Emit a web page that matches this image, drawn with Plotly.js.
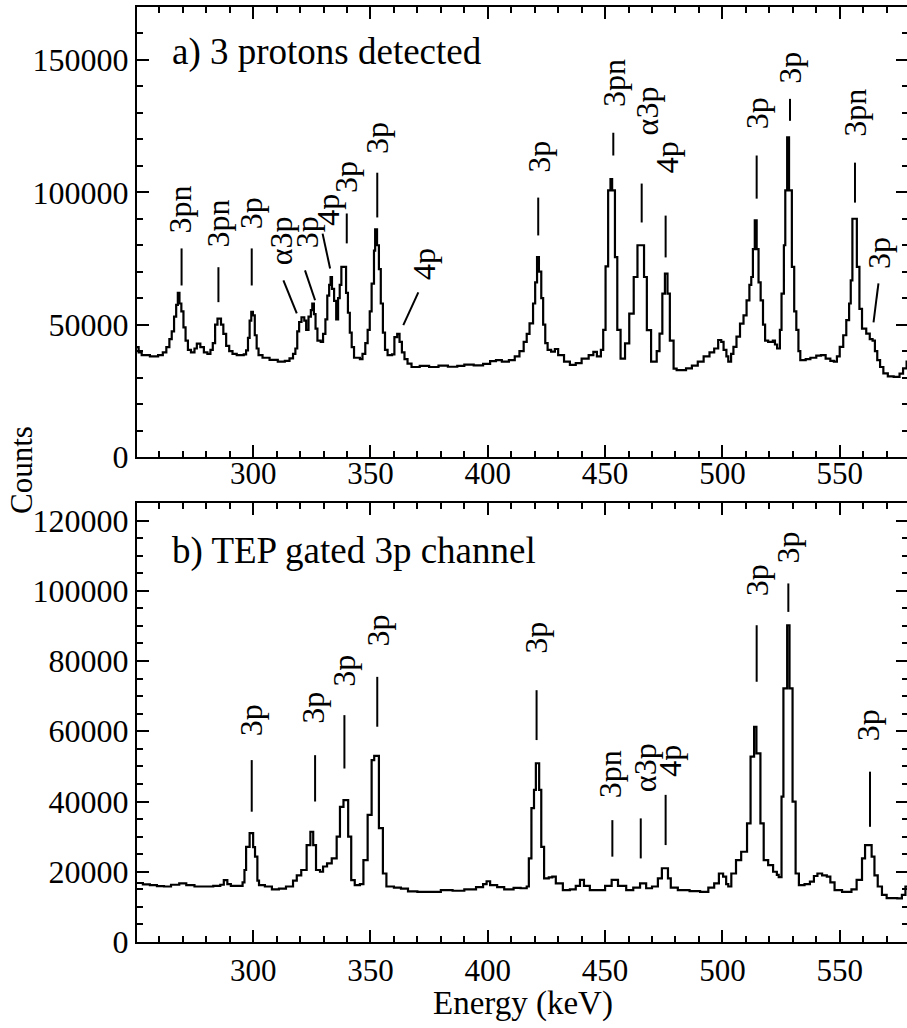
<!DOCTYPE html>
<html>
<head>
<meta charset="utf-8">
<script src="https://cdn.plot.ly/plotly-3.0.1.min.js"></script>
<style>
html, body { margin: 0; padding: 0; overflow: hidden; background: #fff; }
#chart { width: 910px; height: 1028px; }
</style>
</head>
<body>
<div id="chart"></div>
<script>
// ---------- panel a) 3 protons detected ----------
const topEnergy = [
  250.0, 251.2, 252.5, 256.0, 259.5, 261.5, 263.0, 264.3,
  265.3, 266.3, 267.2, 267.9, 268.6, 269.4, 270.3, 271.2, 272.2, 273.5,
  275.0, 276.0, 277.5, 279.0, 280.5, 281.8, 282.8, 283.8, 284.8, 286.3, 287.3, 288.5, 289.8, 291.2,
  293.0, 296.0, 297.0, 297.8, 298.5, 299.2, 299.9, 300.7, 301.5, 302.3, 304.0,
  307.0, 310.5, 313.5, 315.5, 317.0, 318.0, 318.8, 319.6, 320.6, 321.8, 322.6,
  323.6, 324.6, 325.2, 325.9, 326.6, 327.4, 328.8, 329.8, 330.8, 331.6,
  332.4, 333.0, 333.6, 334.5, 335.4, 336.2, 336.9, 337.6, 339.6, 340.4, 341.2, 342.0, 343.0,
  345.5, 346.6, 347.8, 348.8, 349.7, 350.5, 351.5, 352.0, 352.8, 353.6, 354.4, 355.3, 356.2, 357.3,
  359.2, 360.2, 361.4, 362.4, 363.4, 364.5, 365.8, 367.5,
  371.0, 375.0, 379.0, 383.0, 387.0, 390.0, 394.0, 398.0, 401.0, 403.5, 406.0, 409.0, 411.5, 413.5,
  415.3, 416.6, 417.8, 419.3, 420.2, 421.0, 421.8, 422.8, 423.6, 424.5, 425.5, 427.0, 428.6, 430.0,
  432.5, 435.0, 437.5, 440.0, 443.0, 445.0, 446.5,
  448.2, 449.2, 450.2, 451.3, 452.3, 453.0, 454.2, 455.2, 456.6,
  458.5, 460.3, 462.2, 463.8, 466.6, 467.8, 469.6,
  472.0, 473.2, 474.4, 475.5, 476.6, 477.6, 479.2, 480.5,
  484.5, 487.0, 489.5, 492.0, 494.5, 496.5, 498.2, 499.5, 500.5, 501.7, 502.5,
  503.7, 504.7, 506.0, 507.5, 509.0, 510.3, 511.5, 512.3, 513.0,
  513.8, 514.6, 515.4, 516.3, 517.3, 518.2, 519.5, 521.5, 522.4, 523.3,
  524.5, 525.2, 526.2, 526.8, 527.6, 528.4, 529.6, 530.6, 531.5, 532.4, 533.2,
  535.5, 537.5, 540.0, 542.0, 544.0, 546.0, 547.5, 548.8, 550.0, 551.5, 552.8,
  554.0, 554.7, 555.4, 557.3, 558.4, 559.5, 561.3, 562.8, 564.0, 565.0, 566.0,
  567.2, 568.6, 570.5, 573.0, 575.5, 577.0, 578.5, 580.0
];
const topCounts = [
  41500, 39500, 38500, 38000, 38500, 39500, 41500, 44500,
  47500, 53000, 57500, 62000, 58000, 55000, 49000, 44000, 40500, 39500,
  41000, 42800, 41500, 39500, 39000, 40500, 43000, 50000, 52300, 50000, 46500, 42000, 40000, 39000,
  38500, 38800, 40300, 45000, 51500, 54800, 53500, 46000, 41000, 38500, 37500,
  36700, 36000, 36300, 37300, 39000, 41000, 47500, 51000, 52800, 51500, 48000,
  53000, 55500, 58000, 54000, 48500, 44000, 43500, 46500, 52000, 61000,
  65000, 68000, 63500, 59000, 52000, 60000, 65000, 71800, 62000, 54500, 47000, 41500, 37500,
  37000, 39000, 43000, 48000, 55000, 65500, 78000, 86000, 80000, 71000, 58000, 47000, 40500, 38500,
  38800, 45300, 46500, 43500, 39500, 37000, 35300, 34000,
  34400, 34000, 34500, 34100, 34400, 34900, 34600, 35200, 36200, 36600, 36000, 36600, 38000, 40000,
  43500, 46500, 50500, 58000, 66000, 75500, 70000, 60000, 50000, 43000, 40500, 39800, 40800, 38500,
  36000, 34800, 35500, 37200, 38500, 39700, 38000,
  40500, 48000, 72000, 100700, 105000, 100700, 75500, 48000, 37200,
  42900, 54200, 68000, 80000, 68000, 47900, 36000,
  40000, 46600, 61700, 69300, 61700, 44000, 33400, 32800,
  33500, 34500, 36000, 38000, 39500, 41000, 44200, 43500, 40500, 38000, 36000,
  39000, 41600, 45500, 50400, 53500, 59200, 65000, 68000, 78500,
  89400, 78500, 66000, 59200, 50000, 44000, 43500, 44000, 42500, 41000,
  48000, 61700, 80000, 100700, 120800, 100700, 71800, 55000, 48000, 40000, 36600,
  37000, 37500, 38300, 38500, 37200, 36300, 36000, 38000, 41600, 46000, 51700,
  58000, 66700, 90000, 71800, 56000, 48500, 46600, 44500, 44000, 40000, 36600,
  34000, 31600, 30500, 30300, 31500, 33500, 36000, 36500
];

// ---------- panel b) TEP gated 3p channel ----------
const bottomEnergy = [
  250.0, 253.0, 256.0, 259.0, 262.0, 265.0, 268.5, 271.5, 275.0, 280.0, 283.0, 286.0, 287.5, 289.0, 290.5, 293.5,
  295.5, 296.3, 297.0, 298.5, 300.0, 300.8, 301.8, 302.5, 305.0, 308.0, 311.0, 314.0, 317.0,
  318.6, 320.5, 322.8, 324.4, 325.6, 326.8, 328.5, 329.8, 331.5, 333.5, 335.6, 337.0, 338.5, 340.5, 341.8, 343.3,
  345.5, 347.0, 348.8, 350.5, 351.6, 353.6, 355.3, 356.8, 360.0, 363.0, 366.0, 370.0, 375.0, 380.0, 385.0, 390.0,
  395.0, 398.0, 399.5, 401.0, 404.0, 407.0, 411.0, 414.0, 416.6, 417.5, 418.6, 419.7, 420.5, 421.9, 422.8, 424.0,
  426.0, 427.5, 429.0, 432.0, 435.0, 437.5, 439.3, 441.0, 443.5, 447.0, 450.0, 452.8, 455.5, 459.0, 462.0, 464.9, 467.5, 470.0,
  472.5, 474.2, 476.8, 478.0, 481.0, 486.0, 490.5, 494.0, 496.5, 498.5, 500.3, 501.6, 502.5,
  503.8, 505.8, 508.0, 510.5, 512.0, 513.5, 514.5, 516.2, 517.6, 519.5, 521.6, 523.2, 524.0,
  525.2, 526.0, 527.6, 528.6, 529.9, 531.2, 532.6, 535.0, 537.3, 539.0, 540.5, 542.5, 544.5, 546.0, 547.8,
  551.0, 555.0, 557.2, 559.5, 560.8, 563.6, 564.8, 566.2, 568.0, 570.0, 574.5, 576.5, 578.0, 580.0
];
const bottomCounts = [
  16800, 16400, 16200, 15900, 15800, 16300, 16700, 16200, 15800, 15800, 16000, 16300, 17600, 16500, 16000, 16000,
  17000, 20500, 27100, 31000, 27000, 24300, 17500, 16200, 15800, 15000, 15200, 15800, 17500,
  19000, 20500, 27600, 31400, 27600, 20500, 20000, 21500, 22400, 23800, 30000, 38500, 40400, 30000, 17600, 16200,
  16500, 23300, 36200, 51800, 53000, 32400, 19500, 15800, 15500, 15200, 14400, 14300, 14300, 14800, 14600, 15000,
  15600, 16500, 17300, 16200, 15600, 15000, 15400, 15300, 15800, 23800, 38100, 43300, 50900, 43300, 27100, 18100,
  18400, 18600, 16700, 14800, 15000, 16000, 17700, 16000, 14800, 14800, 16000, 17700, 16000, 14800, 15500, 16700, 15300, 15800,
  18100, 21000, 18100, 15500, 14800, 14500, 14300, 15500, 16700, 19500, 18600, 16500, 15800,
  19500, 23300, 25700, 33800, 52800, 61300, 53700, 33800, 23300, 21900, 20000, 19100, 18500,
  41400, 72200, 90200, 72200, 40000, 19500, 16200, 16500, 17200, 18800, 19500, 19000, 18600, 17000, 14800,
  14300, 15000, 17700, 23800, 27600, 24300, 19000, 15800, 13400, 12500, 12400, 13400, 15800, 16500
];

// ---------- peak labels ----------
const topLabelText = ['3pn','3pn','3p','α3p','3p','4p','3p','3p','4p','3p','3pn','α3p','4p','3p','3p','3pn','3p'];
const topLabelE    = [268.8, 285.0, 299.4, 312.2, 322.8, 331.6, 339.8, 352.9, 372.6, 421.5, 453.5, 467.7, 476.2, 514.6, 528.8, 556.5, 567.0];
const topLabelY    = [93500, 88200, 92000, 81800, 84800, 93500, 105600, 120600, 73100, 113500, 141400, 130800, 113100, 129700, 147000, 130000, 76900];
const topMarkE0    = [269.5, 285.2, 299.4, 312.9, 322.1, 329.6, 339.9, 352.9, 370.4, 421.5, 453.5, 465.6, 475.8, 514.6, 528.8, 556.5, 566.5];
const topMarkY0    = [78800, 71700, 78800, 66700, 70500, 84400, 92000, 107400, 62200, 98000, 122500, 103300, 91200, 113900, 135300, 111200, 65600];
const topMarkE1    = [269.5, 285.2, 299.4, 318.6, 326.4, 332.8, 339.9, 352.9, 364.0, 421.5, 453.5, 465.6, 475.8, 514.6, 528.8, 556.5, 564.4];
const topMarkY1    = [64800, 58500, 64800, 54300, 59200, 71200, 80700, 90500, 49800, 83700, 113900, 88600, 75400, 97600, 127000, 96100, 50900];

const botLabelText = ['3p','3p','3p','3p','3p','3pn','α3p','4p','3p','3p','3p'];
const botLabelE    = [298.9, 325.7, 338.7, 353.4, 420.8, 452.1, 467.3, 477.7, 514.6, 528.1, 562.2];
const botLabelY    = [63000, 66800, 77200, 88800, 86500, 47800, 49700, 51600, 102900, 112400, 61800];
const botMarkE     = [299.4, 326.4, 338.9, 352.9, 420.8, 453.1, 465.2, 475.8, 514.6, 528.1, 562.9];
const botMarkY0    = [51800, 53200, 64600, 75500, 71700, 34700, 35200, 41900, 90200, 102100, 48500];
const botMarkY1    = [37100, 40000, 49400, 61300, 57500, 24300, 23800, 27600, 74100, 94000, 32800];

const xTickVals = [300, 350, 400, 450, 500, 550];
const topYTicks = [0, 50000, 100000, 150000];
const botYTicks = [0, 20000, 40000, 60000, 80000, 100000, 120000];
const panelTitles = ['a) 3 protons detected', 'b) TEP gated 3p channel'];

// ---------- build ----------
const SERIF = 'Liberation Serif';
const lineStyle = {color: '#000', width: 2.2, shape: 'hv'};

const traces = [
  {x: topEnergy, y: topCounts, xaxis: 'x', yaxis: 'y', mode: 'lines', line: lineStyle, showlegend: false},
  {x: bottomEnergy, y: bottomCounts, xaxis: 'x2', yaxis: 'y2', mode: 'lines', line: lineStyle, showlegend: false}
];

const annotations = [];
const shapes = [];
function addLabels(texts, le, ly, xr, yr) {
  texts.forEach((t, i) => annotations.push({
    text: t, x: le[i], y: ly[i], xref: xr, yref: yr, showarrow: false,
    textangle: -90, xanchor: 'center', yanchor: 'middle',
    font: {family: SERIF, size: 32}
  }));
}
function addMarks(e0, y0, e1, y1, xr, yr) {
  e0.forEach((v, i) => shapes.push({
    type: 'line', xref: xr, yref: yr, x0: v, y0: y0[i], x1: e1[i], y1: y1[i],
    line: {color: '#000', width: 2}
  }));
}
addLabels(topLabelText, topLabelE, topLabelY, 'x', 'y');
addMarks(topMarkE0, topMarkY0, topMarkE1, topMarkY1, 'x', 'y');
addLabels(botLabelText, botLabelE, botLabelY, 'x2', 'y2');
addMarks(botMarkE, botMarkY0, botMarkE, botMarkY1, 'x2', 'y2');

annotations.push({text: panelTitles[0], xref: 'paper', yref: 'paper', x: 0.043, y: 0.952,
  xanchor: 'left', yanchor: 'middle', showarrow: false, font: {family: SERIF, size: 37}});
annotations.push({text: panelTitles[1], xref: 'paper', yref: 'paper', x: 0.043, y: 0.418,
  xanchor: 'left', yanchor: 'middle', showarrow: false, font: {family: SERIF, size: 37}});
annotations.push({text: 'Counts', xref: 'paper', yref: 'paper', x: -0.149, y: 0.505, textangle: -90,
  xanchor: 'center', yanchor: 'middle', showarrow: false, font: {family: SERIF, size: 31}});
annotations.push({text: 'Energy (keV)', xref: 'paper', yref: 'paper', x: 0.5, y: -0.066,
  xanchor: 'center', yanchor: 'middle', showarrow: false, font: {family: SERIF, size: 33}});

const xCommon = {
  range: [250.5, 579.1], tickmode: 'array', tickvals: xTickVals,
  ticks: 'inside', ticklen: 12, tickwidth: 1.8, tickcolor: '#000',
  minor: {dtick: 10, tick0: 0, ticks: 'inside', ticklen: 6, tickwidth: 1.5, tickcolor: '#000'},
  showline: true, linewidth: 2, linecolor: '#000', mirror: 'ticks',
  showgrid: false, zeroline: false, fixedrange: true,
  tickfont: {family: SERIF, size: 31}
};
const yCommon = {
  ticks: 'inside', ticklen: 12, tickwidth: 1.8, tickcolor: '#000',
  showline: true, linewidth: 2, linecolor: '#000', mirror: 'ticks',
  showgrid: false, zeroline: false, fixedrange: true,
  tickmode: 'array', tickformat: 'd', exponentformat: 'none',
  tickfont: {family: SERIF, size: 32}
};

const layout = {
  width: 910, height: 1028,
  margin: {l: 137, r: 2, t: 7, b: 86},
  paper_bgcolor: '#fff', plot_bgcolor: '#fff',
  font: {family: SERIF, color: '#000'},
  showlegend: false,
  hovermode: false,
  xaxis: Object.assign({}, xCommon, {anchor: 'y', ticklabelstandoff: -12}),
  yaxis: Object.assign({}, yCommon, {domain: [0.5187, 1], range: [0, 170000], tickvals: topYTicks,
    minor: {dtick: 10000, tick0: 0, ticks: 'inside', ticklen: 6, tickwidth: 1.5, tickcolor: '#000'}}),
  xaxis2: Object.assign({}, xCommon, {anchor: 'y2'}),
  yaxis2: Object.assign({}, yCommon, {domain: [0, 0.4695], range: [0, 125000], tickvals: botYTicks,
    minor: {dtick: 5000, tick0: 0, ticks: 'inside', ticklen: 6, tickwidth: 1.5, tickcolor: '#000'}}),
  annotations: annotations,
  shapes: shapes
};

Plotly.newPlot('chart', traces, layout, {displayModeBar: false});
</script>
</body>
</html>
